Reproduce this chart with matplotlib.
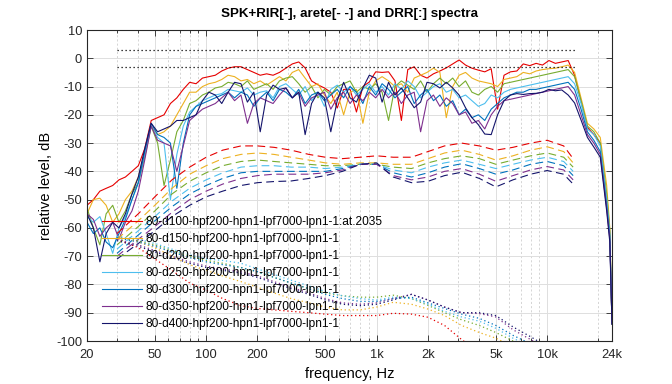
import numpy as np
import matplotlib
matplotlib.use("Agg")
import matplotlib.pyplot as plt
from matplotlib.ticker import FixedLocator, NullFormatter

plt.rcParams["font.family"] = ["Liberation Sans", "DejaVu Sans"]
plt.rcParams["axes.unicode_minus"] = False

# SPK+RIR spectra (solid), 1/8 octave grid
f_spk = [20, 21.8, 23.8, 25.9, 28.3, 30.8, 33.6, 36.7, 40, 43.6,
         47.6, 51.9, 56.6, 61.7, 67.3, 73.4, 80, 87.2, 95.1, 103.7,
         113.1, 123.4, 134.5, 146.7, 160, 174.5, 190.3, 207.5, 226.3, 246.8,
         269.1, 293.5, 320, 349, 380.5, 415, 452.5, 493.5, 538.2, 586.9,
         640, 698, 761, 830, 905, 987, 1076, 1174, 1280, 1396,
         1522, 1660, 1810, 1974, 2153, 2348, 2560, 2792, 3044, 3320,
         3620, 3948, 4305, 4695, 5120, 5584, 6089, 6640, 7241, 7897,
         8611, 9391, 10240, 11167, 12177, 13280, 14482, 15793, 17222, 18780,
         20480, 22334, 23300, 24000]

spk_d100 = [-52, -50, -47, -46, -45, -43, -42, -40, -38, -32,
            -22, -21, -20, -16, -14, -11, -8.5, -9, -7, -6.5,
            -6, -4.5, -3.5, -3, -3, -4, -5, -6, -5.5, -6,
            -5, -3.5, -2, -1.3, -3.4, -8, -9.4, -10.5, -12, -17.6,
            -11, -11, -19, -10, -8.4, -4.8, -5, -4.8, -8, -22,
            -4, -3, -6, -7, -5.5, -4.5, -3.4, -2, -0.6, -2.4,
            -3.5, -4.2, -4.8, -3.7, -18, -6, -4.8, -4.5, -2, -2.6,
            -1.8, -2.4, -0.8, -1.8, -1.3, -0.8, -6, -15, -24.5, -27,
            -30, -50, -62, -94]
spk_d150 = [-55, -50, -49.5, -52, -58, -55, -50, -47, -42, -33,
            -24, -27, -26, -24, -20, -16, -12, -12, -10, -9,
            -8.5, -7.5, -6, -6.5, -8, -7.5, -9, -8, -9.5, -8,
            -6.5, -8, -5, -4, -7, -10, -9, -13, -16, -12,
            -20, -12, -11, -23, -12, -8, -6.5, -8, -10, -9,
            -12, -7, -6, -5, -3.5, -5, -21, -10, -6, -5,
            -7, -8, -8.5, -9, -10, -7.5, -7, -6.5, -5, -5.5,
            -4.5, -4, -3.7, -3.5, -3, -2.4, -5, -14, -23, -25,
            -28, -45, -60, -94]
spk_d200 = [-53, -60, -66, -55, -52, -58, -54, -48, -44, -35,
            -24, -30, -45, -36, -26, -22, -16, -15, -13, -12,
            -10.5, -10, -8.5, -9, -10, -8, -11, -10, -9, -11,
            -8, -7, -6.5, -9, -12, -10, -14, -11, -13, -10,
            -9, -8, -12, -10, -11, -9, -12, -22, -10, -8,
            -9.5, -11, -8, -12, -9, -7, -9, -7, -10, -8,
            -12, -13, -11, -10, -12, -9, -8.5, -8, -7.5, -7,
            -6.5, -6, -5.5, -5, -4.5, -4, -6.5, -15, -24, -26,
            -30, -48, -61, -94]
spk_d250 = [-56, -58, -56, -62, -69, -60, -56, -50, -44, -34,
            -24, -28, -30, -50, -34, -24, -19, -17, -15, -14,
            -13, -12.5, -11, -11.5, -12, -10.5, -13, -12, -11.5, -14,
            -10, -9, -11, -13, -10, -15, -12, -17, -11, -9.5,
            -12, -10, -13, -11, -9, -12, -10, -13, -9, -11,
            -8, -10, -14, -12, -10, -9, -12, -11, -14, -13,
            -15, -17, -16, -13, -14, -12, -11, -10.5, -10, -9.5,
            -9, -8.5, -8, -7.5, -7, -6.5, -9, -16, -25, -27,
            -31, -50, -62, -94]
spk_d300 = [-58, -62, -60, -65, -67, -62, -57, -50, -44, -33,
            -23, -27, -28, -30, -46, -30, -20, -17, -16, -15,
            -14, -13, -12, -14, -12, -13, -17, -14, -12, -15,
            -11, -12, -14, -11, -16, -13, -12, -15, -13, -11,
            -14, -10, -12, -16, -10, -13, -9, -11, -14, -12,
            -10, -16, -13, -11, -15, -13, -17, -15, -20, -18,
            -21, -20, -22, -18, -16, -14, -13, -12, -12, -11,
            -11, -10.5, -10, -9.5, -9, -8.5, -11, -18, -26, -29,
            -33, -52, -63, -94]
spk_d350 = [-55, -57, -63, -60, -58, -64, -58, -54, -47, -36,
            -24, -29, -30, -31, -40, -31, -22, -20, -18, -17,
            -16, -14, -12, -15, -13, -23, -16, -14, -15, -16,
            -13, -10.5, -14, -12, -17, -14, -13, -12, -18, -14,
            -12, -16, -13, -15, -12, -14, -11, -14, -12, -16,
            -13, -12, -26, -15, -13, -17, -14, -16, -20, -19,
            -23, -22, -25, -20, -17, -15, -14.5, -14, -13.5, -13,
            -12.5, -12, -11.5, -11, -10.5, -10, -13, -20, -27, -30,
            -34, -53, -64, -94]
spk_d400 = [-55, -60, -72, -62, -58, -60, -55, -48, -42, -32,
            -23, -26, -25, -24, -22, -22, -21, -20, -15, -12,
            -13, -16, -12, -8.5, -9, -15.5, -12, -26, -13, -9.5,
            -11, -10.5, -14, -12, -27, -16, -12, -14, -26, -15,
            -8.5, -14, -15.5, -10.5, -6, -7, -15.5, -8.5, -13, -10.5,
            -14, -17.5, -15.5, -8.5, -9, -10.5, -8.5, -10.5, -13, -17.5,
            -21, -23.5, -26.8, -27, -20, -15, -13, -12.5, -12.8, -12.5,
            -12.4, -12, -11, -11.5, -11.2, -13, -15.8, -21.8, -28, -31.4,
            -35, -54, -65, -94]

# arete spectra (dashed)
f_arete = [30, 40, 50, 63, 80, 100, 125, 160, 200, 250, 315, 400, 500, 630,
           800, 1000, 1250, 1600, 2000, 2500, 3150, 4000, 5000, 6300, 8000,
           10000, 12500, 14200]
ar_d100 = [-62, -55, -49, -43, -38.5, -35, -32.5, -31, -31, -31.5, -32.5, -34, -35, -35.5,
           -35, -34.5, -35, -35, -33, -31, -30, -31, -32.5, -31.5, -30, -29, -31, -35.5]
ar_d150 = [-64, -57.5, -52, -46, -41, -38, -35.5, -34, -33.5, -34, -35, -36, -37, -37.5,
           -37, -37, -37.5, -37.5, -35.5, -33.5, -32.5, -34, -36, -34.5, -32.5, -31.3, -33, -37]
ar_d200 = [-66, -59.5, -54, -48, -43.5, -40.5, -38, -36.5, -36, -36.5, -37, -37.5, -38, -38,
           -37.5, -37.5, -38.5, -39, -37, -35.5, -34.5, -35.5, -37.5, -36, -34.5, -33.5, -35, -38.5]
ar_d250 = [-67.5, -61, -56, -50.5, -46, -43, -40.5, -38.5, -38, -38, -38.5, -38.5, -39, -38.5,
           -37.5, -37.5, -39.5, -40.5, -38.5, -37, -36, -37.5, -39, -37.5, -36, -35, -36.5, -40]
ar_d300 = [-69, -62.5, -57.5, -52.5, -48, -45, -42.5, -40.5, -40, -40, -40, -40, -40, -39,
           -37.5, -37.5, -40.5, -42, -40.5, -38.5, -37.3, -39, -41, -39.5, -37.5, -36.5, -38, -41.5]
ar_d350 = [-70, -64, -59.5, -54.5, -50, -47, -44.5, -42.5, -41.5, -41, -41, -41, -40.5, -39.5,
           -37.5, -37.5, -41.5, -43, -42, -40, -39, -41, -43.5, -41.5, -39.5, -38.3, -39.5, -43]
ar_d400 = [-71, -65.5, -61, -56, -52, -49, -47, -45, -44, -43.6, -43.4, -42.5, -41.5, -40,
           -37.5, -37, -42, -44, -43.5, -41.5, -40.3, -42.5, -45.5, -43, -41, -39.7, -41, -44.5]

# DRR spectra (dotted)
f_drr = [30, 40, 50, 63, 80, 100, 125, 160, 200, 250, 315, 400, 500, 630, 800,
         1000, 1250, 1600, 2000, 2500, 3150, 4000, 5000, 6300, 8000, 10000]
drr_d100 = [-64, -67, -71, -75, -79.5, -82, -85, -87.5, -88.5, -89, -89.5, -90, -90.5, -91, -91,
            -91, -90.2, -90.5, -91.6, -94.5, -99.5, -104, -108, -110, -112, -114]
drr_d150 = [-63, -65, -67, -70, -73, -75, -77, -79, -81, -83, -85, -86.5, -88, -89, -89,
            -88, -86.3, -87, -88.7, -91, -94.5, -97, -99, -102, -105, -108]
drr_d200 = [-63, -64.5, -66, -68, -70, -71.5, -72.5, -74, -75.5, -77.5, -79.5, -81.5, -83, -84, -84.5,
            -84.5, -83.8, -85, -87.4, -90, -92.5, -94.5, -97, -100, -103, -106]
drr_d250 = [-63, -64, -65.5, -67.5, -69.5, -71, -71.5, -72.5, -74.5, -76.5, -78.5, -80.5, -82.5, -84, -85,
            -85.5, -84.5, -85, -87, -89.5, -91.5, -93, -95.5, -99, -102, -105]
drr_d300 = [-63.5, -65, -66.5, -68.5, -70.5, -72, -73, -74, -75.5, -77.5, -79.5, -81.5, -83.5, -85, -86,
            -86, -85, -84.5, -86.5, -88.5, -90.5, -92, -94.5, -98, -101, -104]
drr_d350 = [-64, -66, -68, -70, -72, -73.5, -74.5, -75.5, -77, -79, -81, -83, -85, -86.5, -87,
            -86.5, -85, -83.5, -85.5, -88, -90, -90.3, -91.5, -96, -99.5, -103]
drr_d400 = [-64.5, -66.5, -68.5, -70.5, -72.5, -74, -75, -76, -77.5, -79.5, -81.5, -83.5, -85.5, -87, -87.5,
            -87, -85.5, -83.5, -85.5, -88, -90, -90, -91, -95, -98.5, -102]

labels = ["80-d100-hpf200-hpn1-lpf7000-lpn1-1:at.2035",
          "80-d150-hpf200-hpn1-lpf7000-lpn1-1",
          "80-d200-hpf200-hpn1-lpf7000-lpn1-1",
          "80-d250-hpf200-hpn1-lpf7000-lpn1-1",
          "80-d300-hpf200-hpn1-lpf7000-lpn1-1",
          "80-d350-hpf200-hpn1-lpf7000-lpn1-1",
          "80-d400-hpf200-hpn1-lpf7000-lpn1-1"]
colors = [(0.9, 0.0, 0.0), (0.929, 0.694, 0.125), (0.466, 0.674, 0.188),
          (0.301, 0.745, 0.933), (0.0, 0.447, 0.741), (0.494, 0.184, 0.556),
          (0.08, 0.08, 0.42)]

spk = [spk_d100, spk_d150, spk_d200, spk_d250, spk_d300, spk_d350, spk_d400]
arete = [ar_d100, ar_d150, ar_d200, ar_d250, ar_d300, ar_d350, ar_d400]
drr = [drr_d100, drr_d150, drr_d200, drr_d250, drr_d300, drr_d350, drr_d400]

# tolerance lines (+/- 3 dB)
f_tol = [30, 15000]
tol_db = [3, -3]

xticks = [20, 50, 100, 200, 500, 1000, 2000, 5000, 10000, 24000]
xticklabels = ["20", "50", "100", "200", "500", "1k", "2k", "5k", "10k", "24k"]
xminor = [30, 40, 60, 70, 80, 90, 300, 400, 600, 700, 800, 900,
          3000, 4000, 6000, 7000, 8000, 9000, 20000]

fig = plt.figure(figsize=(6.72, 3.84), dpi=100)
ax = fig.add_axes((87 / 672, 43 / 384, 525 / 672, 311 / 384))

for y, c, lab in zip(spk, colors, labels):
    ax.plot(f_spk, y, color=c, lw=0.8, label=lab)
for y, c in zip(arete, colors):
    ax.plot(f_arete, y, color=c, lw=0.8, dashes=(7, 4))
for y, c in zip(drr, colors):
    ax.plot(f_drr, y, color=c, lw=0.9, dashes=(1, 2.2))
for t in tol_db:
    ax.plot(f_tol, [t, t], color="k", lw=0.9, dashes=(1, 2.2))

ax.set_xscale("log")
ax.set_xlim(20, 24000)
ax.set_ylim(-100, 10)
ax.xaxis.set_major_locator(FixedLocator(xticks))
ax.set_xticklabels(xticklabels)
ax.xaxis.set_minor_locator(FixedLocator(xminor))
ax.xaxis.set_minor_formatter(NullFormatter())
ax.set_yticks(np.arange(-100, 11, 10))

ax.grid(True, which="major", color="#dedede", lw=0.7, ls="-")
ax.grid(True, which="minor", axis="x", color="#cfcfcf", lw=0.6, ls=(0, (2.5, 2.5)))
ax.set_axisbelow(True)
ax.tick_params(which="both", direction="in", top=True, right=True,
               labelsize=9.3, colors="#262626", width=0.6)
ax.tick_params(which="major", length=4)
ax.tick_params(which="minor", length=2)
ax.tick_params(axis="x", pad=6)
for s in ax.spines.values():
    s.set_color("#262626")
    s.set_linewidth(0.8)

ax.set_title("SPK+RIR[-], arete[- -] and DRR[:] spectra", fontsize=9.6,
             fontweight="bold", pad=9)
ax.set_xlabel("frequency, Hz", fontsize=10.5, labelpad=4)
ax.set_ylabel("relative level, dB", fontsize=10.5, labelpad=2)

ax.legend(loc="lower left", bbox_to_anchor=(0.028, 0.035), frameon=False,
          fontsize=8.6, handlelength=3.35, handletextpad=0.3, labelspacing=0.42,
          borderpad=0, borderaxespad=0)

fig.savefig("out.png", dpi=100)
